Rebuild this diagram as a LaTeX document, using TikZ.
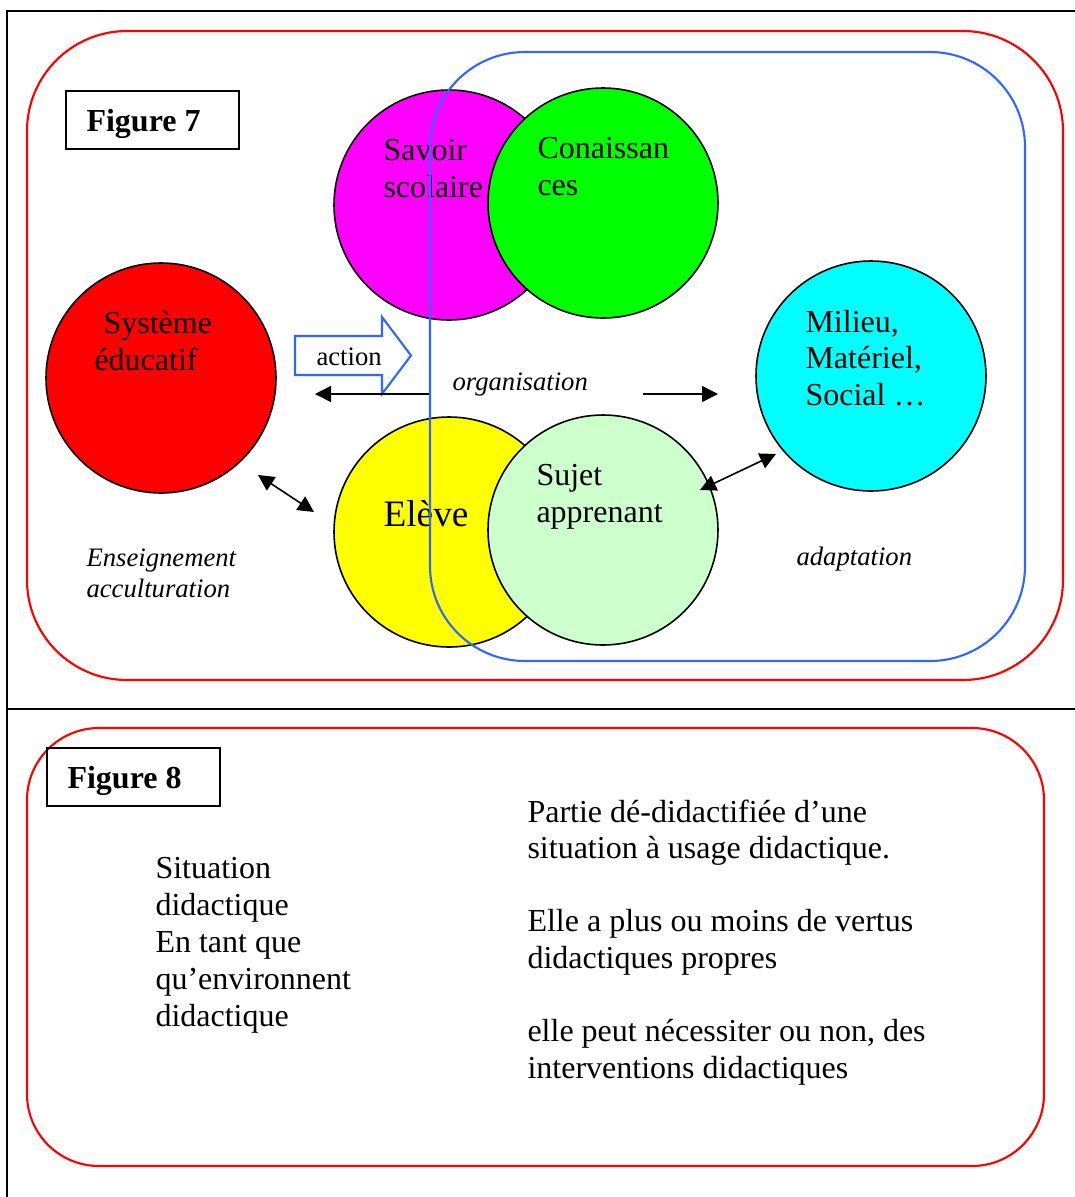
\documentclass[tikz,border=0pt]{standalone}
\usepackage{fontspec}
\setmainfont{Liberation Serif}
\usetikzlibrary{arrows.meta}
\def\U{0.375pt}
\definecolor{frameblue}{HTML}{3366FF}
\definecolor{palegreen}{HTML}{CCFFCC}
\definecolor{pmagenta}{HTML}{FF00FF}
\definecolor{pgreen}{HTML}{00FF00}
\definecolor{pred}{HTML}{FF0000}
\definecolor{pcyan}{HTML}{00FFFF}
\definecolor{pyellow}{HTML}{FFFF00}
\begin{document}
\begin{tikzpicture}[x=\U, y=-\U,
  bubble/.style={circle, draw=black, line width=0.6pt, minimum size=86.25pt, inner sep=0pt},
  txt/.style={anchor=base west, inner sep=0pt, font=\fontsize{12}{13.8}\selectfont},
  big/.style={anchor=base west, inner sep=0pt, font=\fontsize{14}{16}\selectfont},
  small/.style={anchor=base west, inner sep=0pt, font=\fontsize{10}{11.5}\selectfont},
  slant/.style={anchor=base west, inner sep=0pt, font=\fontsize{10}{11.5}\selectfont\itshape},
  figtxt/.style={anchor=base west, inner sep=0pt, font=\fontsize{12}{13.8}\selectfont\bfseries},
  figbox/.style={draw=black, line width=0.75pt, anchor=north west, inner sep=0pt, minimum width=64.9pt, minimum height=21.6pt},
  conn/.style={line width=0.6pt, >={Triangle[length=6pt,width=6pt]}},
  redframe/.style={draw=pred, line width=0.8pt},
  blueframe/.style={draw=frameblue, line width=0.8pt}]
\useasboundingbox (0,0) rectangle (1074,1197);
% page frame
\draw[line width=0.75pt] (1080,11) -- (7,11) -- (7,1200);
\draw[line width=0.75pt] (7,709) -- (1080,709);
% ---------- Figure 7 ----------
\draw[redframe, rounded corners=37.5pt] (27,31) rectangle (1063,680);
\node[figbox] (fig7box) at (65,90) {};
\node[figtxt] (fig7) at (86,131) {Figure 7};
\node[bubble, fill=pmagenta] (savoir) at (449,205) {};
\node[bubble, fill=pgreen] (conn) at (603,203) {};
\node[bubble, fill=pred] (systeme) at (161,378) {};
\node[bubble, fill=pcyan] (milieu) at (871,376) {};
\node[bubble, fill=pyellow] (eleve) at (449,532) {};
\node[bubble, fill=palegreen] (sujet) at (603,530) {};
\node[txt] (sav1) at (383,160) {Savoir};
\node[txt] (sav2) at (383,197) {scolaire};
\node[txt] (con1) at (537,158) {Conaissan};
\node[txt] (con2) at (537,195) {ces};
\node[txt] (sys1) at (103,333) {Système};
\node[txt] (sys2) at (94,370) {éducatif};
\node[txt] (mil1) at (805,332) {Milieu,};
\node[txt] (mil2) at (805,368) {Matériel,};
\node[txt] (mil3) at (805,405) {Social …};
\node[big] (elevetxt) at (383,526) {Elève};
\node[txt] (suj1) at (536,485) {Sujet};
\node[txt] (suj2) at (536,522) {apprenant};
% action arrow
\draw[blueframe, fill=white] (295,336) -- (382,336) -- (382,317) -- (411,355.5) -- (382,394) -- (382,375) -- (295,375) -- cycle;
\node[small] (action) at (316,365) {action};
\node[slant] (organisation) at (452,390) {organisation};
\node[slant] (ens1) at (86,566) {Enseignement};
\node[slant] (ens2) at (86,597) {acculturation};
\node[slant] (adapt) at (796,565) {adaptation};
% connectors
\coordinate (la1) at (430,394);
\coordinate (la2) at (315,394);
\coordinate (ra1) at (643,394);
\coordinate (ra2) at (718,394);
\coordinate (da1) at (258,475);
\coordinate (da2) at (314,512);
\coordinate (db1) at (700,490);
\coordinate (db2) at (776,454);
\draw[conn, ->] (la1) -- (la2);
\draw[conn, ->] (ra1) -- (ra2);
\draw[conn, <->] (da1) -- (da2);
\draw[conn, <->] (db1) -- (db2);
\draw[blueframe, rounded corners=35.6pt] (430,52) rectangle (1025,661);
% ---------- Figure 8 ----------
\draw[redframe, rounded corners=27pt] (27,728) rectangle (1044,1166);
\node[figbox] (fig8box) at (46,747) {};
\node[figtxt] (fig8) at (67,788) {Figure 8};
\node[txt] (l1) at (155,878) {Situation};
\node[txt] (l2) at (155,915) {didactique};
\node[txt] (l3) at (155,952) {En tant que};
\node[txt] (l4) at (155,989) {qu’environnent};
\node[txt] (l5) at (155,1026) {didactique};
\node[txt] (r1) at (527,822) {Partie dé-didactifiée d’une};
\node[txt] (r2) at (527,858) {situation à usage didactique.};
\node[txt] (r3) at (527,931) {Elle a plus ou moins de vertus};
\node[txt] (r4) at (527,968) {didactiques propres};
\node[txt] (r5) at (527,1041) {elle peut nécessiter ou non, des};
\node[txt] (r6) at (527,1078) {interventions didactiques};
\end{tikzpicture}
\end{document}
